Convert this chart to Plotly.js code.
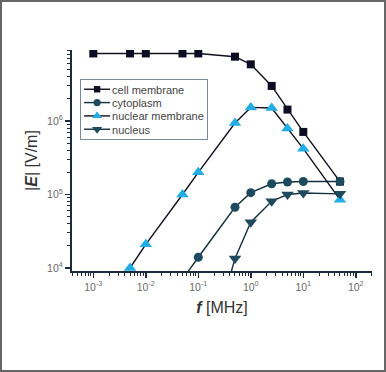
<!DOCTYPE html>
<html><head><meta charset="utf-8">
<script src="https://cdn.plot.ly/plotly-3.0.1.min.js"></script>
<style>html,body{margin:0;padding:0;background:#fff;}#wrap{position:relative;width:386px;height:372px;}#frame{position:absolute;left:0;top:0;width:386px;height:372px;box-sizing:border-box;border:2px solid #666;pointer-events:none;}</style>
</head><body><div id="wrap"><div id="plot" style="width:386px;height:372px;"></div><div id="frame"></div></div>
<script>
const cellX = [0.001, 0.005, 0.01, 0.05, 0.1, 0.5, 1, 2.5, 5, 10, 50];
const cellY = [8.3e6, 8.3e6, 8.3e6, 8.3e6, 8.3e6, 7.5e6, 5.9e6, 3.0e6, 1.43e6, 7.1e5, 1.5e5];
const cytoX = [0.05, 0.1, 0.5, 1, 2.5, 5, 10, 50];
const cytoY = [7.0e3, 1.4e4, 6.7e4, 1.06e5, 1.4e5, 1.48e5, 1.5e5, 1.5e5];
const nmemX = [0.005, 0.01, 0.05, 0.1, 0.5, 1, 2.5, 5, 10, 50];
const nmemY = [1.0e4, 2.1e4, 1.0e5, 2.0e5, 9.4e5, 1.53e6, 1.5e6, 7.9e5, 4.2e5, 8.5e4];
const nucX = [0.1, 0.5, 1, 2.5, 5, 10, 50];
const nucY = [2.2e2, 1.35e4, 4.2e4, 8.1e4, 1.0e5, 1.05e5, 1.02e5];
const names = ["cell membrane", "cytoplasm", "nuclear membrane", "nucleus"];
const xTickVals = [0.001, 0.01, 0.1, 1, 10, 100];
const xTickText = ["10<sup>-3</sup>", "10<sup>-2</sup>", "10<sup>-1</sup>", "10<sup>0</sup>", "10<sup>1</sup>", "10<sup>2</sup>"];
const yTickVals = [1e4, 1e5, 1e6];
const yTickText = ["10<sup>4</sup>", "10<sup>5</sup>", "10<sup>6</sup>"];

const F = "Liberation Sans, Arial, sans-serif";
const traces = [
  {x: cellX, y: cellY, name: names[0], mode: "lines+markers",
   line: {color: "#10101e", width: 1.4}, marker: {symbol: "square", size: 8, color: "#0d0d24"}},
  {x: cytoX, y: cytoY, name: names[1], mode: "lines+markers",
   line: {color: "#13303d", width: 1.4}, marker: {symbol: "circle", size: 9, color: "#1d4a5c"}},
  {x: nmemX, y: nmemY, name: names[2], mode: "lines+markers",
   line: {color: "#10101e", width: 1.4}, marker: {symbol: "triangle-up", size: 11, color: "#22aee4"}},
  {x: nucX, y: nucY, name: names[3], mode: "lines+markers",
   line: {color: "#13303d", width: 1.4}, marker: {symbol: "triangle-down", size: 11, color: "#1d4a5c"}}
];
const axCommon = {
  type: "log", tickmode: "array",
  showline: true, linecolor: "#1c2b3e", linewidth: 2,
  ticks: "outside", ticklen: 5, tickwidth: 1.5, tickcolor: "#1c2b3e",
  showgrid: false, zeroline: false, mirror: false,
  tickfont: {family: F, size: 10.5, color: "#6a6a6a"},
  minor: {dtick: "D1", ticks: "outside", ticklen: 3, tickwidth: 1, tickcolor: "#1c2b3e", showgrid: false}
};
const layout = {
  width: 386, height: 372,
  margin: {l: 72, r: 14, t: 50, b: 101},
  paper_bgcolor: "#fff", plot_bgcolor: "#fff",
  font: {family: F, color: "#333"},
  showlegend: true,
  legend: {x: 0.027, y: 0.869, xanchor: "left", yanchor: "top",
    bordercolor: "#7a8a99", borderwidth: 1, bgcolor: "rgba(255,255,255,0)",
    font: {family: F, size: 11, color: "#444"}, itemwidth: 30, tracegroupgap: 0},
  xaxis: Object.assign({}, axCommon, {range: [-3.406, 2.309], tickvals: xTickVals, ticktext: xTickText,
    title: {text: "<b><i>f</i></b> [MHz]", font: {family: F, size: 16, color: "#333"}, standoff: 10}}),
  yaxis: Object.assign({}, axCommon, {range: [3.959, 6.966], tickvals: yTickVals, ticktext: yTickText,
    title: {text: "|<b><i>E</i></b>| [V/m]", font: {family: F, size: 16, color: "#333"}, standoff: 6}})
};
Plotly.newPlot("plot", traces, layout, {displayModeBar: false, staticPlot: true}).then(function () {
  // compact the legend rows to match the reference spacing
  const dy = 13.33, y0 = 10.3, W = 127, H = 60;
  const items = document.querySelectorAll(".legend .traces");
  items.forEach(function (g, i) {
    g.setAttribute("transform", "translate(0," + (y0 + i * dy) + ")");
    g.querySelectorAll(".legendlines path").forEach(function (p) { p.setAttribute("d", "M4,0h26"); });
    g.querySelectorAll(".legendpoints path").forEach(function (p) { p.setAttribute("transform", "translate(17,0) scale(0.8)"); });
    const t = g.querySelector(".legendtext");
    if (t) t.setAttribute("x", 32);
  });
  document.querySelectorAll(".legend rect.bg").forEach(function (r) {
    r.setAttribute("height", H); r.setAttribute("width", W);
  });
  document.querySelectorAll("clipPath[id^='legend'] rect").forEach(function (r) {
    r.setAttribute("height", H); r.setAttribute("width", W);
  });
});
</script></body></html>
